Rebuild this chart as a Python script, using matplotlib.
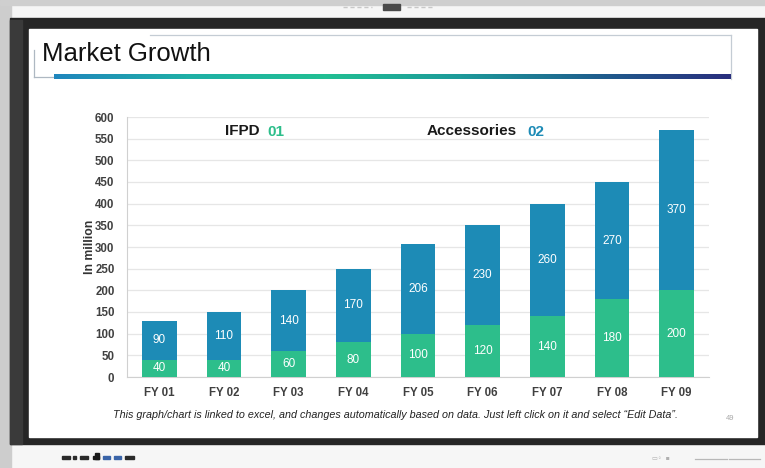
import numpy as np
import matplotlib
matplotlib.use("Agg")
import matplotlib.pyplot as plt
from matplotlib.colors import LinearSegmentedColormap
from matplotlib.patches import Rectangle

plt.rcParams['font.family'] = ['Liberation Sans', 'DejaVu Sans']

# ---- data ----
categories = ["FY 01", "FY 02", "FY 03", "FY 04", "FY 05", "FY 06", "FY 07", "FY 08", "FY 09"]
ifpd = [40, 40, 60, 80, 100, 120, 140, 180, 200]
accessories = [90, 110, 140, 170, 206, 230, 260, 270, 370]
yticks = list(range(0, 601, 50))

GREEN = "#2DBE8B"
BLUE = "#1D8BB6"

W, H = 765, 468
fig = plt.figure(figsize=(W / 100, H / 100), dpi=100)

# ---- background / screen frame (pixel coordinates) ----
bg = fig.add_axes([0, 0, 1, 1])
bg.set_xlim(0, W)
bg.set_ylim(H, 0)
bg.axis("off")
bg.add_patch(Rectangle((0, 0), W, H, color="#f6f6f6", zorder=0))
bg.add_patch(Rectangle((0, 0), 11, H, color="#cdcdcd", zorder=0.5))
bg.add_patch(Rectangle((0, 0), W, 5, color="#cfcfcf", zorder=0.5))
bg.add_patch(Rectangle((10, 18), W - 10, 426, color="#262626", zorder=1))
bg.add_patch(Rectangle((10, 20), 12, 424, color="#3a3a3a", zorder=1.1))
bg.add_patch(Rectangle((29, 29), 728, 408, color="white", zorder=2))
# camera & small marks on top
bg.add_patch(Rectangle((383, 4), 17, 6, color="#4a4a4a", zorder=2))
bg.plot([343, 372], [7, 7], color="#c8c8c8", lw=1, ls=(0, (3, 2)), zorder=2)
bg.plot([407, 432], [7, 7], color="#c8c8c8", lw=1, ls=(0, (3, 2)), zorder=2)
# bottom marks
marks = [(62, 70, "#2a2a2a"), (73, 76, "#2a2a2a"), (80, 88, "#2a2a2a"), (93, 99, "#1a1a1a"),
         (103, 110, "#3a64a8"), (114, 121, "#3a64a8"), (125, 134, "#2a2a2a")]
for x0, x1, c in marks:
    bg.add_patch(Rectangle((x0, 456), x1 - x0, 3, color=c, zorder=2))
bg.add_patch(Rectangle((95, 453), 4, 6, color="#1a1a1a", zorder=2))
bg.text(652, 459, "▭◦  ▪", fontsize=4.5, color="#b0b0b0", va="center", ha="left",
        family=["DejaVu Sans"], zorder=2)
bg.plot([695, 727], [459, 459], color="#b8b8b8", lw=0.9, zorder=2)
bg.plot([729, 760], [459, 459], color="#b8b8b8", lw=0.9, zorder=2)

# title box
box_c = "#aeb8c2"
bg.plot([150, 731], [35, 35], color="#c4ccd4", lw=0.9, zorder=3)
bg.plot([731, 731], [35, 79], color="#c4ccd4", lw=0.9, zorder=3)
bg.plot([34, 34], [50, 77], color=box_c, lw=0.9, zorder=3)
bg.plot([34, 55], [77, 77], color=box_c, lw=0.9, zorder=3)
# gradient bar
cmap = LinearSegmentedColormap.from_list(
    "g", ["#1f86bd", "#1fb0a6", "#22bf93", "#1d9a9a", "#1f5f8e", "#2a2f7e"])
grad = np.linspace(0, 1, 512).reshape(1, -1)
bg.imshow(grad, cmap=cmap, aspect="auto", extent=[54, 731, 79, 74], zorder=3)
bg.set_xlim(0, W)
bg.set_ylim(H, 0)

bg.text(42, 54, "Market Growth", fontsize=18.5, color="#111111", va="center", ha="left", zorder=4)

# legend-like headers
bg.text(225, 131, "IFPD", fontsize=11, fontweight="bold", color="#1a1a1a", va="center", ha="left", zorder=4)
bg.text(267, 132, "01", fontsize=11, fontweight="bold", color=GREEN, va="center", ha="left", zorder=4)
bg.text(427, 131, "Accessories", fontsize=11, fontweight="bold", color="#1a1a1a", va="center", ha="left", zorder=4)
bg.text(527, 132, "02", fontsize=11, fontweight="bold", color=BLUE, va="center", ha="left", zorder=4)

# footnote
bg.text(113, 415, "This graph/chart is linked to excel, and changes automatically based on data. "
        "Just left click on it and select \u201cEdit Data\u201d.",
        fontsize=7.72, style="italic", color="#222222", va="center", ha="left", zorder=4)
bg.text(730, 419, "49", fontsize=5.5, color="#a8a8a8", va="center", ha="center", zorder=4)

# ---- chart ----
left, right, top, bottom = 127, 709, 117, 377
ax = fig.add_axes([left / W, 1 - bottom / H, (right - left) / W, (bottom - top) / H])
ax.set_zorder(3)
ax.patch.set_alpha(0)
x = np.arange(len(categories))
bw = 0.54
ax.bar(x, ifpd, width=bw, color=GREEN, zorder=3)
ax.bar(x, accessories, width=bw, bottom=ifpd, color=BLUE, zorder=3)
for xi, g, b in zip(x, ifpd, accessories):
    ax.text(xi, g / 2, str(g), ha="center", va="center", color="white", fontsize=8.5, zorder=4)
    ax.text(xi, g + b / 2, str(b), ha="center", va="center", color="white", fontsize=8.5, zorder=4)

ax.set_xlim(-0.5, len(categories) - 0.5)
ax.set_ylim(0, 600)
ax.set_yticks(yticks)
ax.set_yticklabels([str(v) for v in yticks], fontweight="bold")
ax.set_xticks(x)
ax.set_xticklabels(categories, fontweight="bold")
ax.tick_params(axis="both", length=0, labelsize=8.3, labelcolor="#404040")
ax.tick_params(axis="y", pad=9)
ax.tick_params(axis="x", pad=7)
ax.yaxis.grid(True, color="#e6e6e6", lw=0.9, zorder=0)
ax.set_axisbelow(True)
for s in ["top", "right"]:
    ax.spines[s].set_visible(False)
ax.spines["left"].set_color("#d0d0d0")
ax.spines["bottom"].set_color("#d0d0d0")
ax.set_ylabel("In million", fontsize=8.8, fontweight="bold", color="#333333", labelpad=-1)

fig.savefig("out.png", dpi=100)
